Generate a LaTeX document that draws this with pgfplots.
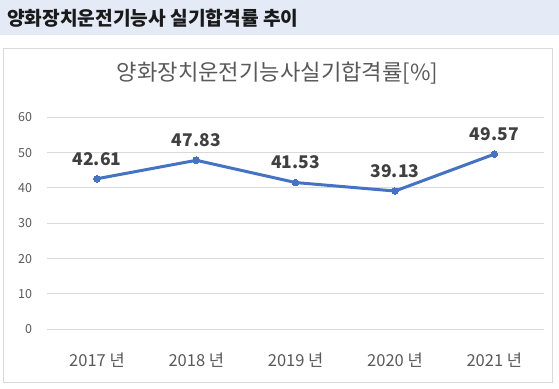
\documentclass[border=0pt]{standalone}
\usepackage{pgfplots}
\pgfplotsset{compat=1.18}
\usepackage{fontspec}
\setmainfont{Noto Sans CJK KR}
\definecolor{headbg}{HTML}{E4EAF6}
\definecolor{headtxt}{HTML}{1A1A1A}
\definecolor{boxgray}{HTML}{D9D9D9}
\definecolor{gridgray}{HTML}{D9D9D9}
\definecolor{txtgray}{HTML}{595959}
\definecolor{lblgray}{HTML}{404040}
\definecolor{lineblue}{HTML}{4472C4}
\begin{document}
\begin{tikzpicture}[x=1pt,y=1pt]
\path[use as bounding box] (0,0) rectangle (559,388);
\fill[headbg] (0,353.3) rectangle (559,388);
\node[anchor=west,inner sep=0,text=headtxt,font=\fontsize{19.2}{21}\selectfont\bfseries] at (7,370) {양화장치운전기능사 실기합격률 추이};
\draw[boxgray,line width=1pt] (3.3,6) rectangle (552.3,339.7);
\node[anchor=center,inner sep=0,text=txtgray,font=\fontsize{22.2}{24}\selectfont] at (277.5,315) {양화장치운전기능사실기합격률[\%]};
\begin{axis}[
  at={(47.3pt,58.7pt)}, anchor=south west,
  scale only axis, width=496.7pt, height=212pt,
  xmin=-0.5, xmax=4.5, ymin=0, ymax=60,
  axis line style={draw=none},
  xtick={0,1,2,3,4},
  xticklabels={2017 년,2018 년,2019 년,2020 년,2021 년},
  ytick={0,10,20,30,40,50,60},
  major tick length=0pt,
  ymajorgrids, grid style={gridgray,line width=1pt},
  /pgf/number format/assume math mode=true,
  xticklabel style={anchor=center,yshift=-30.7pt,text=txtgray,font=\fontsize{16.5}{18}\selectfont},
  yticklabel style={anchor=east,inner sep=0pt,xshift=-15pt,text=txtgray,font=\fontsize{12.5}{14}\selectfont},
  clip=false,
]
\addplot[lineblue, line width=3pt, mark=*, mark size=3.3pt, mark options={fill=lineblue,draw=lineblue,line width=0pt},
  nodes near coords,
  every node near coord/.append style={anchor=center,yshift=20pt,text=lblgray,font=\fontsize{17.5}{19}\selectfont\bfseries,/pgf/number format/fixed,/pgf/number format/precision=2,/pgf/number format/fixed zerofill}]
coordinates {(0,42.61) (1,47.83) (2,41.53) (3,39.13) (4,49.57)};
\end{axis}
\end{tikzpicture}
\end{document}
